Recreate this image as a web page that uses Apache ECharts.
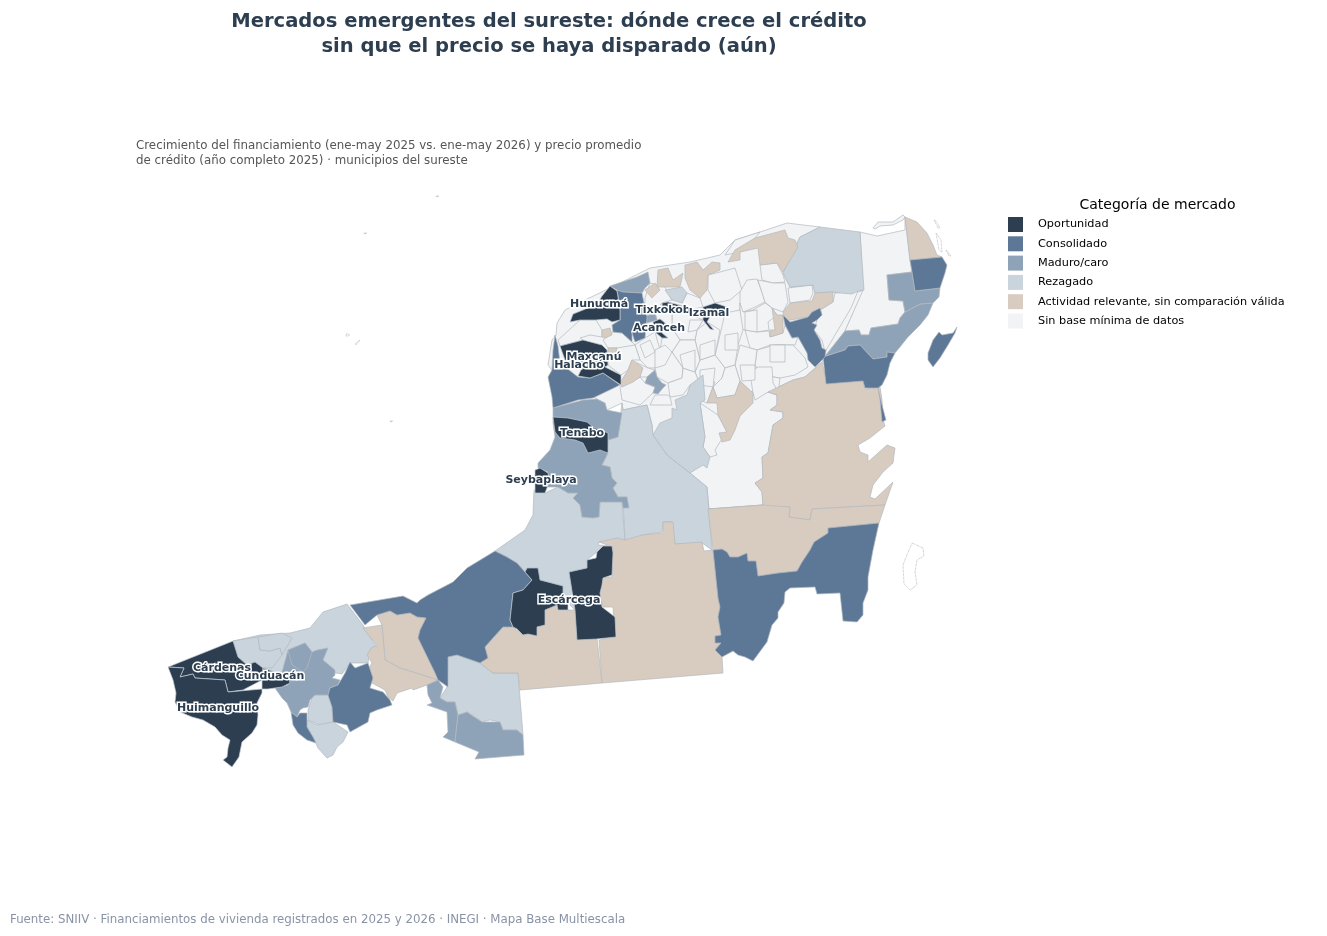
<!DOCTYPE html>
<html><head><meta charset="utf-8">
<style>html,body{margin:0;padding:0;background:#fff}#c{width:1327px;height:936px}</style>
<script src="https://cdn.jsdelivr.net/npm/echarts@6/dist/echarts.min.js"></script>
</head><body><div id="c"></div>
<script>
const categories = ['Oportunidad','Consolidado','Maduro/caro','Rezagado','Actividad relevante, sin comparación válida','Sin base mínima de datos'];
const categoryColors = ['#2c3e50','#5d7896','#8fa3b8','#c9d4dd','#d8ccc0','#f1f3f5'];
const labelNames = ['Hunucmá','Tixkokob','Izamal','Acanceh','Maxcanú','Halachó','Tenabo','Seybaplaya','Escárcega','Cárdenas','Cunduacán','Huimanguillo'];
const labelPoints = [[599,304],[663,310],[709,313],[659,328],[594,357],[579,365],[582,433],[541,480],[569,600],[222,668],[270,676],[218,708]];

const sinBase = [
 [[557,323],[565,310],[585,300],[610,288],[650,268],[690,262],[720,255],[735,240],[760,232],[787,223],[820,227],[800,237],[783,273],[790,287],[813,285],[815,293],[833,292],[852,294],[864,290],[845,331],[826,355],[822,362],[805,377],[793,380],[768,392],[777,395],[777,405],[770,410],[783,412],[783,418],[773,425],[768,453],[762,457],[763,478],[755,483],[762,492],[763,505],[709,509],[707,487],[690,473],[667,455],[653,435],[652,425],[647,405],[632,408],[623,410],[622,403],[607,410],[597,399],[560,380],[548,365],[552,340],[556,335]],
 [[860,232],[877,236],[905,230],[905,217],[910,260],[912,272],[887,275],[889,300],[903,301],[905,312],[900,318],[898,324],[871,328],[869,335],[861,335],[859,330],[845,331],[863,290]],
 [[687,293],[700,298],[703,307],[690,310],[682,303]],
 [[720,272],[735,268],[742,290],[730,300],[715,303],[708,290],[708,275]],
 [[760,265],[777,263],[783,275],[785,282],[773,283],[762,280]],
 [[740,292],[747,280],[757,279],[763,295],[765,302],[753,308],[743,312],[740,310]],
 [[758,280],[773,283],[785,283],[788,302],[783,312],[772,308],[765,302]],
 [[788,288],[812,285],[813,293],[810,300],[790,303]],
 [[812,315],[833,302],[835,293],[858,291],[851,308],[825,352],[822,340],[814,330],[817,320],[822,315],[820,308]],
 [[740,303],[743,312],[753,310],[765,303],[772,308],[777,315],[768,322],[769,330],[757,332],[745,330],[740,328]],
 [[745,330],[757,332],[769,331],[770,337],[783,333],[785,325],[792,338],[798,337],[795,345],[790,345],[770,345],[757,350],[750,348]],
 [[757,350],[775,345],[793,345],[805,358],[808,367],[795,375],[780,378],[760,375],[755,365]],
 [[740,345],[757,350],[755,365],[760,375],[758,390],[750,392],[740,381],[735,365]],
 [[760,375],[780,378],[778,395],[768,392],[755,397],[753,393]],
 [[725,313],[740,310],[743,330],[738,345],[735,365],[725,368],[715,355],[720,335]],
 [[707,322],[720,330],[715,355],[700,360],[695,340],[697,330]],
 [[672,313],[687,313],[703,320],[697,330],[695,340],[680,340],[672,328]],
 [[700,360],[715,355],[725,368],[722,378],[713,387],[700,385],[695,372]],
 [[680,340],[695,340],[700,360],[695,372],[683,368],[672,352]],
 [[665,323],[672,328],[680,340],[672,352],[660,350],[662,338],[668,338],[662,333]],
 [[645,338],[655,332],[660,350],[655,368],[648,368],[640,360],[635,345]],
 [[660,350],[672,352],[683,368],[682,378],[668,383],[657,377],[655,368]],
 [[683,368],[695,372],[700,385],[690,385],[683,395],[670,397],[668,383],[682,378]],
 [[735,365],[740,381],[735,395],[717,398],[713,387],[722,378],[725,368]],
 [[613,332],[622,333],[632,342],[635,345],[625,350],[617,348],[608,348],[603,340]],
 [[617,348],[635,345],[640,360],[632,360],[628,370],[621,375],[608,365],[608,350]],
 [[637,363],[648,368],[655,370],[647,377],[640,377]],
 [[620,387],[640,377],[645,383],[655,387],[653,393],[640,405],[622,400]],
 [[655,395],[668,395],[670,397],[672,405],[650,405]],
 [[650,283],[665,287],[672,300],[662,303],[655,313],[645,315],[645,298]],
 [[655,313],[662,303],[672,313],[672,328],[665,323],[660,319],[657,320]],
 [[580,320],[596,320],[602,330],[602,337],[590,335],[580,338],[583,340],[560,346],[558,340]],
 [[735,240],[760,232],[755,238],[740,252],[725,255]],
 [[700,403],[718,415],[727,432],[720,442],[715,450],[717,455],[710,457],[703,447],[705,437]],
 [[695,398],[707,403],[713,387],[715,382],[703,382],[697,388]],
 [[758,367],[772,367],[773,383],[777,390],[768,392],[755,400],[753,393],[750,373]],
 [[873,228],[878,222],[893,222],[903,215],[905,217],[903,220],[893,225],[880,226],[875,229]],
 [[745,312],[757,310],[757,332],[745,330]],
 [[700,345],[715,340],[715,355],[700,360]],
 [[680,355],[695,350],[695,372],[683,368]],
 [[725,335],[738,333],[738,350],[725,350]],
 [[770,345],[785,345],[785,362],[770,362]],
 [[740,365],[755,365],[755,380],[742,381]],
 [[655,350],[665,345],[672,352],[665,365],[655,368]],
 [[690,320],[703,320],[697,330],[688,332]],
 [[700,370],[715,368],[713,387],[700,385]],
 [[640,345],[650,340],[655,352],[645,358]]
];
const rezagado = [
 [[233,641],[260,635],[290,633],[310,628],[323,612],[347,604],[363,625],[372,640],[378,648],[370,650],[368,663],[350,663],[342,674],[330,672],[288,680],[275,672],[263,668],[255,662],[247,665],[238,657]],
 [[233,641],[245,639],[258,637],[260,650],[270,651],[280,648],[282,655],[272,668],[263,668],[255,662],[247,665],[238,657]],
 [[282,633],[292,638],[285,650],[282,655],[280,648],[270,651],[260,650],[258,637]],
 [[313,695],[328,695],[332,707],[333,722],[320,725],[308,720],[308,710]],
 [[307,720],[317,725],[333,722],[348,732],[343,742],[337,747],[333,755],[327,758],[318,748],[313,737],[307,727]],
 [[448,657],[457,655],[480,663],[493,673],[518,673],[523,735],[517,730],[503,730],[500,722],[490,720],[482,722],[473,715],[467,712],[458,715],[455,702],[447,702],[440,698],[447,687]],
 [[534,490],[545,493],[558,487],[568,493],[578,493],[573,498],[580,505],[582,517],[593,518],[599,517],[600,502],[622,502],[625,540],[599,542],[598,545],[612,546],[597,552],[587,560],[587,568],[569,572],[575,610],[568,603],[563,595],[563,586],[540,580],[538,568],[527,568],[525,572],[517,563],[507,557],[495,551],[525,530],[533,515]],
 [[622,403],[623,410],[632,408],[647,405],[652,425],[653,435],[667,455],[690,473],[707,487],[712,550],[702,543],[675,544],[672,522],[663,522],[662,532],[642,535],[642,538],[625,540],[623,501],[628,505],[627,497],[618,497],[613,488],[617,483],[612,478],[610,467],[602,465],[607,455],[608,440],[618,437]],
 [[653,435],[660,423],[672,418],[672,408],[677,410],[675,400],[687,395],[690,385],[703,375],[705,400],[700,403],[705,437],[703,447],[710,457],[707,468],[703,465],[690,473],[667,455]],
 [[783,273],[800,237],[820,227],[860,232],[864,290],[858,291],[852,294],[840,293],[833,292],[815,293],[813,285],[790,287]],
 [[665,290],[682,287],[687,293],[682,303],[672,300]]
];
const actividad = [
 [[377,615],[390,611],[397,615],[410,613],[417,617],[426,618],[420,630],[418,638],[430,655],[434,660],[436,673],[438,680],[400,668],[385,660],[382,625]],
 [[382,625],[385,660],[400,668],[438,680],[427,685],[413,690],[412,688],[397,693],[393,701],[388,697],[385,690],[372,683],[369,668],[372,663],[367,655],[372,647],[378,646],[370,637],[363,628]],
 [[485,647],[493,638],[503,627],[513,627],[523,635],[528,634],[537,636],[537,627],[545,625],[545,610],[557,605],[558,610],[575,610],[577,640],[597,639],[602,683],[520,690],[518,673],[493,673],[480,663],[488,658]],
 [[599,542],[617,538],[625,540],[642,535],[663,533],[663,522],[673,522],[675,544],[702,542],[704,551],[713,550],[718,598],[720,607],[718,617],[721,635],[715,636],[715,643],[721,643],[715,650],[722,657],[723,673],[602,683],[599,640],[615,637],[613,607],[603,607],[598,588],[603,577],[612,577],[613,547]],
 [[709,509],[763,505],[762,492],[755,483],[763,478],[762,457],[768,453],[773,425],[783,418],[783,412],[770,410],[777,405],[777,395],[768,392],[793,380],[805,377],[822,362],[827,383],[863,381],[865,389],[880,387],[882,400],[883,420],[885,426],[870,438],[858,445],[860,452],[868,455],[868,462],[887,445],[895,448],[893,463],[883,472],[873,485],[870,497],[875,499],[893,482],[885,505],[812,509],[810,520],[789,517],[790,507]],
 [[708,509],[763,505],[790,507],[789,517],[810,520],[812,509],[885,505],[879,523],[828,528],[828,533],[814,542],[810,550],[802,562],[797,571],[778,573],[758,576],[756,561],[748,561],[747,553],[738,557],[730,557],[727,552],[722,549],[713,550]],
 [[905,217],[917,222],[927,233],[933,245],[937,255],[942,257],[910,260]],
 [[602,330],[610,328],[612,335],[605,338],[602,337]],
 [[608,348],[617,348],[615,357],[608,357]],
 [[620,383],[628,370],[632,360],[637,363],[643,368],[640,377],[633,382],[622,387]],
 [[645,290],[655,283],[660,290],[652,298]],
 [[658,270],[668,268],[673,280],[683,273],[680,287],[665,287],[657,287]],
 [[685,265],[697,262],[703,270],[712,262],[720,263],[720,270],[708,275],[707,290],[700,298],[690,290],[685,278]],
 [[755,238],[785,230],[788,238],[795,240],[798,247],[783,272],[777,263],[760,265],[758,248],[740,252],[740,260],[728,262],[735,250]],
 [[783,312],[790,303],[812,301],[815,293],[833,292],[833,302],[812,315],[807,317],[785,321]],
 [[772,308],[777,315],[783,315],[783,333],[770,337],[770,330],[775,330]],
 [[707,403],[713,387],[717,398],[735,395],[740,381],[753,393],[753,403],[740,416],[735,430],[730,440],[722,442],[719,433],[727,432],[718,415],[717,403]]
];
const maduro = [
 [[288,650],[305,643],[312,652],[317,650],[328,648],[323,660],[335,670],[335,675],[332,678],[340,680],[338,685],[330,688],[328,695],[315,695],[310,700],[308,707],[303,708],[300,710],[297,717],[291,712],[287,703],[282,698],[275,688],[288,685],[290,677],[282,672]],
 [[288,650],[305,643],[312,652],[307,668],[303,672],[292,665]],
 [[427,685],[438,680],[443,687],[440,698],[447,702],[455,702],[458,715],[455,742],[443,737],[448,732],[447,712],[427,705],[432,703],[428,695]],
 [[458,715],[467,712],[482,722],[500,722],[503,730],[517,730],[523,735],[524,755],[475,759],[479,752],[455,742]],
 [[553,408],[583,400],[597,399],[605,403],[607,410],[622,413],[618,437],[608,440],[608,452],[607,455],[602,465],[610,467],[612,478],[617,483],[613,488],[618,497],[627,497],[629,508],[623,508],[622,502],[600,502],[599,517],[593,518],[582,517],[580,505],[573,498],[578,493],[568,493],[558,487],[545,487],[548,472],[538,468],[538,463],[550,450],[555,437],[553,423]],
 [[823,357],[826,355],[845,331],[859,330],[861,335],[869,335],[871,328],[898,324],[900,318],[905,312],[920,304],[933,303],[928,315],[920,325],[908,337],[900,347],[895,353],[887,352],[887,357],[873,359],[860,345],[848,346],[845,350]],
 [[905,312],[903,301],[889,300],[887,275],[912,272],[915,291],[940,288],[939,297],[933,303],[920,304]],
 [[610,286],[637,277],[648,272],[650,283],[645,288],[642,293],[623,292],[617,290]],
 [[643,317],[655,313],[657,320],[647,323]],
 [[647,377],[655,370],[657,377],[662,383],[666,385],[663,388],[658,394],[653,393],[655,387],[645,383]]
];
const consolidado = [
 [[328,695],[330,688],[338,685],[345,673],[350,662],[355,668],[368,663],[373,678],[370,688],[383,692],[390,700],[392,705],[377,710],[370,713],[368,722],[350,732],[347,725],[333,722],[332,707]],
 [[291,712],[297,717],[300,713],[307,713],[307,727],[313,737],[316,743],[307,740],[298,733],[293,725]],
 [[350,605],[403,596],[417,603],[420,600],[428,595],[453,582],[467,568],[495,551],[507,557],[517,563],[525,572],[532,580],[523,590],[513,593],[510,620],[513,627],[503,627],[493,638],[485,647],[488,658],[480,663],[457,655],[448,657],[448,687],[438,680],[435,673],[418,638],[420,630],[426,618],[417,617],[410,613],[397,615],[390,611],[377,615],[365,625]],
 [[713,550],[722,549],[727,552],[730,557],[738,557],[747,553],[748,561],[756,561],[758,576],[778,573],[797,571],[802,562],[810,550],[814,542],[828,533],[828,528],[879,523],[873,550],[868,577],[868,590],[863,603],[863,615],[857,622],[843,621],[840,593],[817,594],[815,587],[790,588],[785,592],[784,603],[778,612],[778,618],[772,625],[767,642],[753,661],[745,657],[738,655],[733,651],[722,657],[715,650],[721,643],[715,643],[715,636],[721,635],[718,617],[720,607],[718,598]],
 [[823,357],[845,350],[848,346],[860,345],[873,359],[887,357],[887,352],[895,353],[890,363],[887,375],[882,385],[878,388],[882,405],[886,420],[882,422],[880,400],[878,388],[865,388],[863,381],[826,384]],
 [[910,260],[942,257],[947,265],[945,273],[940,288],[915,291],[912,272]],
 [[957,327],[953,333],[942,335],[939,332],[933,340],[928,353],[928,360],[933,367],[940,358],[948,345],[955,333]],
 [[617,290],[623,292],[642,293],[643,298],[647,317],[645,338],[635,342],[632,333],[632,342],[622,333],[613,332],[612,325],[620,320],[620,308]],
 [[555,335],[558,346],[560,363],[578,377],[590,378],[603,373],[620,385],[593,398],[578,400],[553,408],[552,397],[548,377],[552,370],[553,350]],
 [[783,315],[790,322],[808,317],[812,312],[820,308],[822,315],[817,320],[812,323],[817,325],[814,330],[820,340],[822,348],[826,350],[825,357],[815,367],[808,360],[807,353],[798,337],[792,338],[785,325]]
];
const oportunidad = [
 [[168,667],[233,641],[238,657],[247,665],[255,662],[263,668],[262,680],[243,690],[228,692],[225,680],[195,678],[193,674],[180,677],[184,668]],
 [[168,667],[184,668],[180,677],[193,674],[195,678],[225,680],[228,692],[262,689],[262,693],[257,703],[258,715],[257,725],[252,733],[242,742],[239,757],[232,767],[223,760],[227,757],[228,748],[230,740],[222,735],[215,727],[203,720],[192,717],[180,712],[175,702],[176,693],[173,680]],
 [[263,668],[275,672],[288,677],[290,683],[282,687],[268,689],[262,689],[262,680]],
 [[553,417],[568,418],[587,422],[593,427],[608,433],[608,448],[608,453],[600,450],[588,453],[583,443],[575,440],[560,438],[555,432]],
 [[535,470],[540,468],[548,473],[549,478],[547,488],[545,493],[535,493],[535,480]],
 [[527,568],[538,568],[540,580],[563,586],[563,595],[568,603],[568,610],[558,610],[557,605],[545,610],[545,625],[537,627],[537,636],[528,634],[523,635],[517,629],[513,627],[510,620],[513,593],[523,590],[532,580],[525,572]],
 [[597,552],[603,546],[612,546],[613,553],[612,575],[603,578],[602,585],[600,593],[602,607],[615,617],[616,637],[597,639],[577,640],[575,610],[569,572],[587,568],[587,560],[596,558]],
 [[610,286],[617,291],[620,310],[620,320],[612,322],[607,319],[596,320],[580,320],[570,322],[573,314],[583,310],[597,304],[602,296]],
 [[662,303],[668,302],[687,307],[687,313],[673,313],[663,313]],
 [[653,322],[660,319],[665,323],[662,333],[668,338],[662,338],[655,332]],
 [[703,307],[715,303],[727,307],[725,313],[710,317],[707,322],[714,330],[710,329],[703,320]],
 [[560,346],[583,340],[602,345],[607,350],[608,365],[605,367],[621,375],[621,385],[603,373],[590,378],[578,376],[582,368],[565,360]]
];
const islets = [
 [[912,543],[923,548],[924,556],[917,560],[915,572],[917,585],[910,590],[904,584],[903,565],[907,555]],
 [[934,220],[936,221],[940,228],[938,228]],
 [[936,233],[941,240],[942,252],[939,250]],
 [[946,250],[951,256],[949,256]],
 [[436,196],[439,196],[439,197],[436,197]],
 [[364,233],[367,233],[367,234],[364,234]],
 [[346,334],[349,334],[349,336],[346,336]],
 [[355,344],[360,340],[361,341],[356,345]],
 [[390,421],[393,421],[393,422],[390,422]]
];

const layers = [[sinBase,5],[rezagado,3],[actividad,4],[maduro,2],[consolidado,1],[oportunidad,0]];
const features = [], regions = [];
let minX=1e9,minY=1e9,maxX=-1e9,maxY=-1e9;
function addRing(ring,name,style){
  ring.forEach(p=>{minX=Math.min(minX,p[0]);maxX=Math.max(maxX,p[0]);minY=Math.min(minY,p[1]);maxY=Math.max(maxY,p[1]);});
  features.push({type:'Feature',properties:{name},geometry:{type:'Polygon',coordinates:[ring.concat([ring[0]])]}});
  regions.push({name,itemStyle:style});
}
layers.forEach(([rings,ci])=>rings.forEach((r,i)=>addRing(r,categories[ci]+' '+i,{areaColor:categoryColors[ci],borderColor:ci===0?'#c4ccd4':'#b3b9bf',borderWidth:0.7})));
islets.forEach((r,i)=>addRing(r,'Isla '+i,{areaColor:'#ffffff',borderColor:'#9aa3ad',borderWidth:0.7,borderType:'dotted'}));
echarts.registerMap('sureste',{type:'FeatureCollection',features});

const chart = echarts.init(document.getElementById('c'),null,{renderer:'canvas'});
const font = 'DejaVu Sans';
chart.setOption({
  animation:false,
  backgroundColor:'#ffffff',
  title:[
    {text:'Mercados emergentes del sureste: dónde crece el crédito\nsin que el precio se haya disparado (aún)',left:549,top:9,padding:0,textAlign:'center',textStyle:{fontFamily:font,fontSize:19.55,fontWeight:'bold',color:'#2c3e50',lineHeight:25}},
    {text:'Crecimiento del financiamiento (ene-may 2025 vs. ene-may 2026) y precio promedio\nde crédito (año completo 2025) · municipios del sureste',left:136,top:139,padding:0,textStyle:{fontFamily:font,fontSize:11.83,fontWeight:'normal',color:'#555555',lineHeight:14.5}},
    {text:'Fuente: SNIIV · Financiamientos de vivienda registrados en 2025 y 2026 · INEGI · Mapa Base Multiescala',left:10,top:914,padding:0,textStyle:{fontFamily:font,fontSize:11.8,fontWeight:'normal',color:'#8a93a6'}},
    {text:'Categoría de mercado',left:1157.5,top:198,padding:0,textAlign:'center',textStyle:{fontFamily:font,fontSize:14,fontWeight:'normal',color:'#000000'}}
  ],
  legend:{data:categories,orient:'vertical',left:1008,top:217,itemWidth:15,itemHeight:15,itemGap:4.3,selectedMode:false,icon:'rect',padding:0,
    textStyle:{fontFamily:font,fontSize:11.27,color:'#000000',padding:[0,0,0,10]}},
  geo:{map:'sureste',roam:false,silent:true,left:minX,top:minY,width:maxX-minX,height:maxY-minY,
    projection:{project:p=>p,unproject:p=>p},regions,label:{show:false},emphasis:{disabled:true},select:{disabled:true}},
  series:categories.map((name,i)=>({name,type:'scatter',coordinateSystem:'geo',data:[],itemStyle:{color:categoryColors[i],opacity:1}})).concat([{
    name:'Etiquetas',type:'scatter',coordinateSystem:'geo',symbolSize:0,silent:true,zlevel:1,itemStyle:{opacity:1},
    data:labelNames.map((n,i)=>({name:n,value:labelPoints[i]})),
    label:{show:true,position:'inside',formatter:'{b}',fontFamily:font,fontSize:11,fontWeight:'bold',color:'#2c3e50',opacity:1,textBorderColor:'#ffffff',textBorderWidth:3},
    labelLayout:{hideOverlap:false}
  }])
});
</script></body></html>
